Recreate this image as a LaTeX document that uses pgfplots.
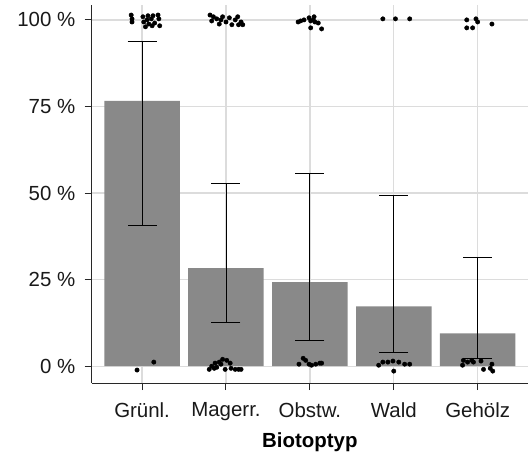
\documentclass[border=0pt]{standalone}
\usepackage{pgfplots}
\pgfplotsset{compat=1.18}
\usepackage{fontspec}
\setmainfont{Liberation Sans}
\definecolor{barfill}{RGB}{137,137,137}
\definecolor{gridc}{RGB}{220,220,220}
\definecolor{axc}{RGB}{40,40,40}
\begin{document}
\begin{tikzpicture}[font=\fontsize{20.5}{24}\selectfont]
\begin{axis}[
  width=436bp, height=378bp, scale only axis,
  xmin=0.4, xmax=5.6, ymin=-4.9, ymax=104.3,
  axis x line*=bottom, axis y line*=left,
  axis line style={-, axc, line width=1pt},
  xtick={1,2,3,4,5},
  xticklabels={Grünl.,Magerr.,Obstw.,Wald,Gehölz},
  ytick={0,25,50,75,100},
  yticklabels={0 \%,25 \%,50 \%,75 \%,100 \%},
  grid=major,
  major grid style={gridc, line width=1.3pt},
  tick align=outside,
  major tick length=7bp,
  tick style={axc, line width=1pt},
  tick label style={font=\fontsize{20.5}{24}\selectfont},
  label style={font=\fontsize{20.5}{24}\selectfont},
  xticklabel style={text=black!90, yshift=-9bp},
  yticklabel style={text=black!90, xshift=-6bp},
  xlabel={\bfseries Biotoptyp},
  xlabel style={yshift=-5bp},
  clip=false,
]
% bars
\addplot[ybar, bar width=0.9, bar shift=0pt, fill=barfill, draw=none] coordinates {
  (1,76.6) (2,28.3) (3,24.3) (4,17.3) (5,9.5)
};
% error bars
\addplot[draw=none, mark=none, forget plot,
  error bars/.cd, y dir=both, y explicit,
  error bar style={draw=black, line width=0.8pt},
  error mark options={rotate=90, mark size=14.5bp, draw=black, line width=0.8pt}]
coordinates {
  (1,76.6) += (0,17.3) -= (0,35.8)
  (2,28.3) += (0,24.6) -= (0,15.6)
  (3,24.3) += (0,31.5) -= (0,16.8)
  (4,17.3) += (0,32.1) -= (0,13.3)
  (5,9.5)  += (0,22.0) -= (0,7.2)
};
% jittered observations
\addplot[only marks, mark=*, mark size=2.2bp, black] coordinates {
  (0.87,101.4) (0.88,100.3) (0.88,99.4) (1.01,100.9) (1.02,99.4) (1.04,98.0)
  (1.06,100.0) (1.08,98.8) (1.11,100.3) (1.13,101.2) (1.15,99.1) (1.19,101.4)
  (1.20,100.3) (1.21,98.3) (1.12,98.3) (1.07,101.2)
  (0.94,-1.1) (1.14,1.2)
  (1.81,101.4) (1.83,99.7) (1.85,100.9) (1.89,100.3) (1.92,98.8) (1.94,100.0)
  (1.96,100.9) (2.00,99.4) (2.04,100.6) (2.07,98.6) (2.11,100.0) (2.14,100.9)
  (2.18,99.4) (2.20,98.6) (2.15,98.6)
  (1.80,-0.9) (1.83,0.0) (1.87,0.9) (1.89,-0.3) (1.92,1.2) (1.94,0.6) (1.96,2.0)
  (1.99,-0.9) (2.01,1.7) (2.05,0.9) (2.06,-0.6) (2.11,-0.9) (2.15,-0.9) (2.18,-0.9)
  (1.86,-0.6)
  (2.86,99.4) (2.89,99.7) (2.93,100.0) (2.99,100.6) (3.01,99.7) (3.04,100.0)
  (3.06,99.4) (3.01,97.7) (3.14,97.4) (3.10,99.1) (3.05,100.9)
  (2.87,0.6) (2.92,2.3) (2.95,1.7) (2.99,0.6) (3.02,0.3) (3.07,0.6) (3.12,0.9) (3.14,0.9)
  (3.87,100.3) (4.02,100.3) (4.19,100.3)
  (3.82,0.3) (3.87,1.2) (3.93,1.2) (3.99,1.5) (4.00,-1.4) (4.06,1.2) (4.13,0.6) (4.19,0.6)
  (4.87,100.0) (4.87,97.7) (4.94,97.7) (4.98,100.3) (5.00,99.4) (5.17,98.8)
  (4.82,0.3) (4.83,1.7) (4.88,1.2) (4.95,1.2) (5.04,1.5) (5.07,-0.9) (5.15,-0.6)
  (5.18,-1.4) (5.17,0.6) (4.93,1.7)
};
\path (rel axis cs:0,0) ++(-91.7bp,-73bp) coordinate (bbl);
\path (rel axis cs:1,1) ++(1bp,5bp) coordinate (btr);
\end{axis}
\path (bbl) rectangle (btr);
\end{tikzpicture}
\end{document}
